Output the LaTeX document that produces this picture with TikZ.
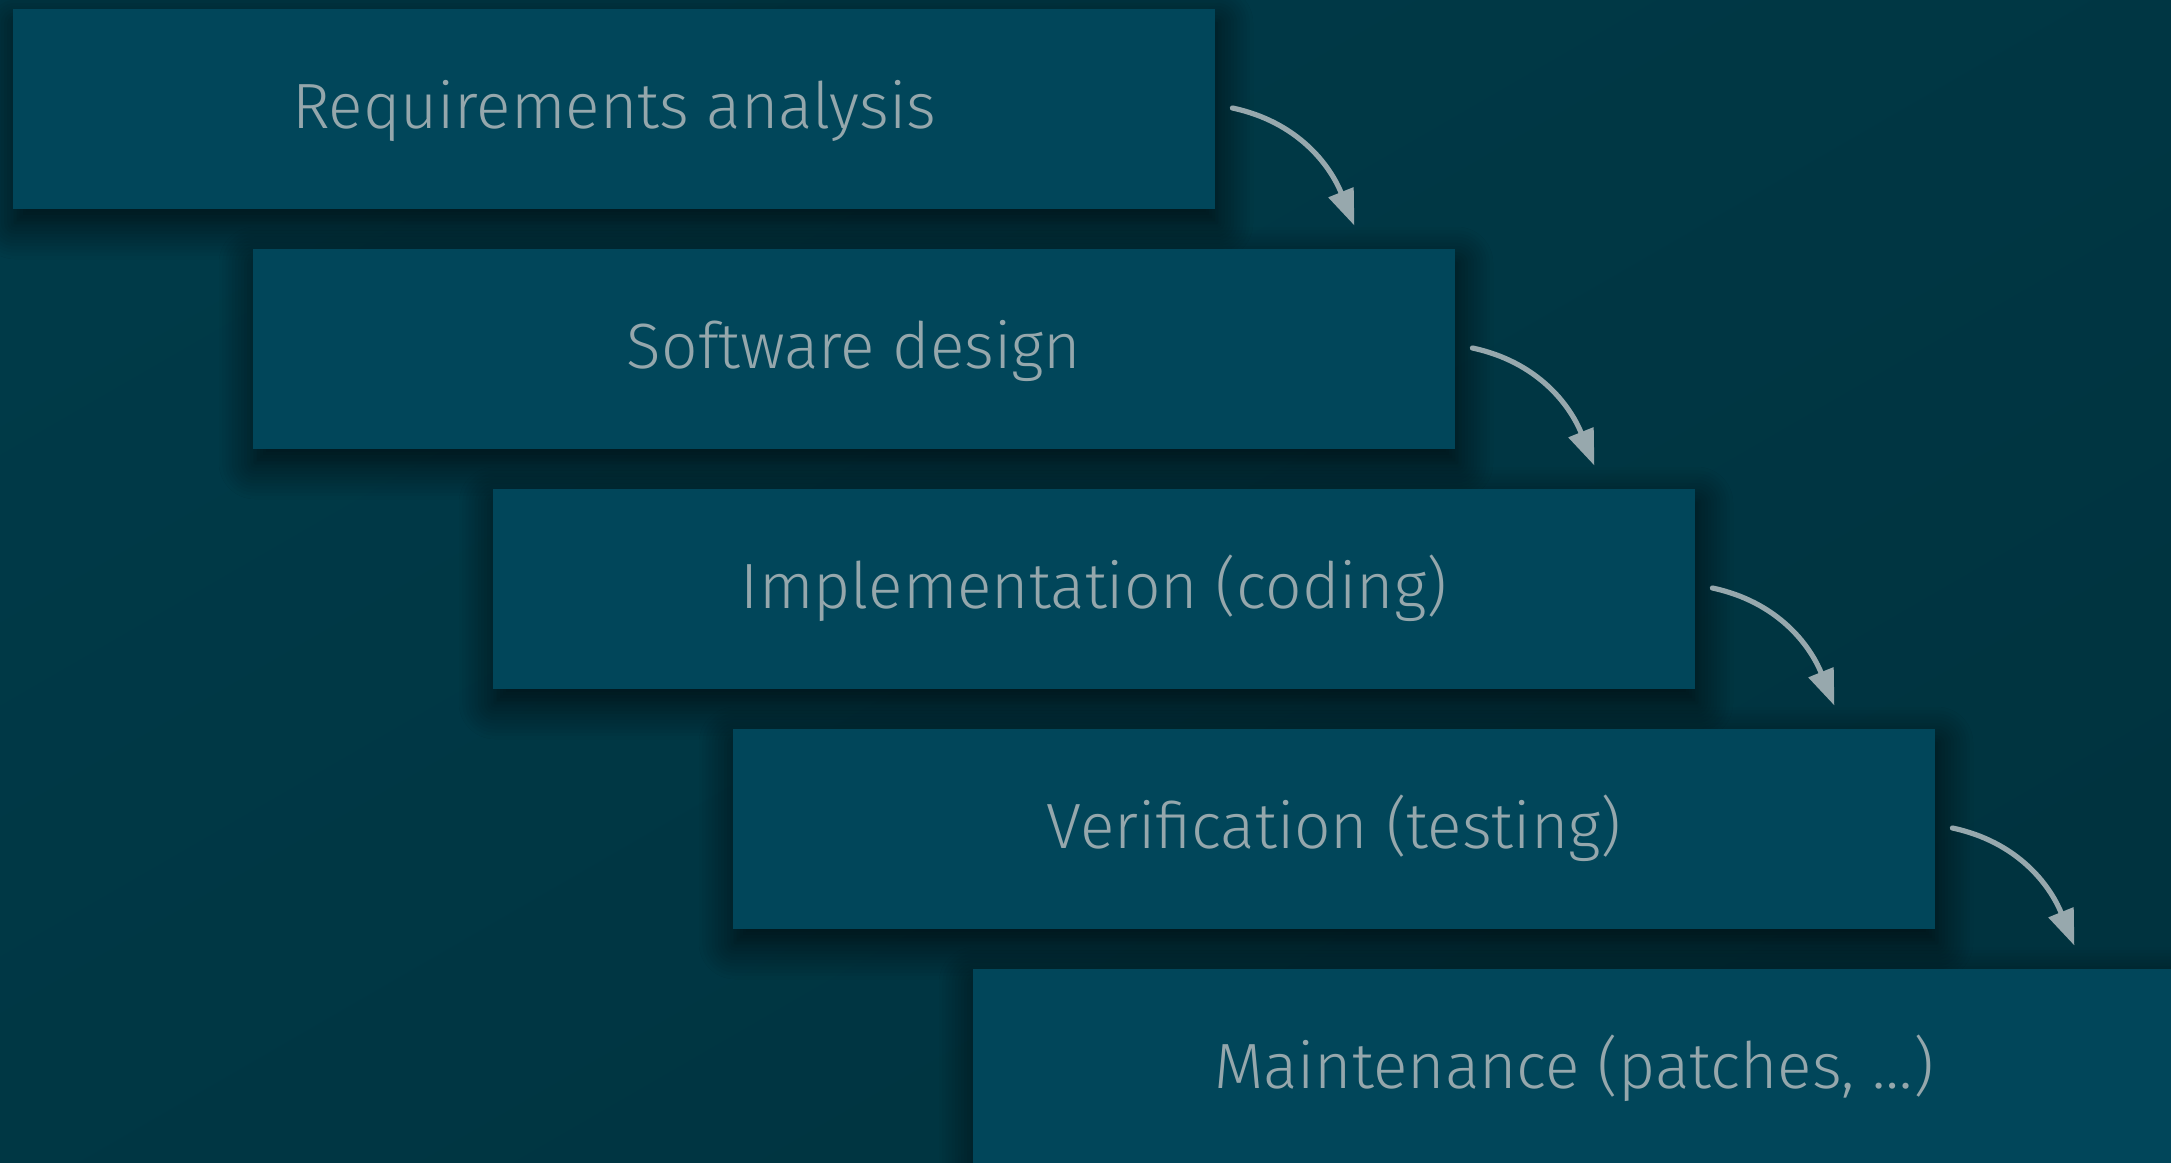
\documentclass[tikz,border=0pt]{standalone}
\usepackage{fontspec}
\setmainfont{Fira Sans}[UprightFont=* Light]
\usetikzlibrary{arrows.meta,shadows.blur}

\definecolor{bgdark}{HTML}{00333F}
\definecolor{bglight}{HTML}{003A48}
\definecolor{boxfill}{HTML}{01465A}
\definecolor{labelgray}{HTML}{95A7AC}
\definecolor{arrowgray}{HTML}{97A8AD}

\tikzset{
  stage/.style={
    rectangle, fill=boxfill, inner sep=0pt,
    minimum width=601pt, minimum height=100pt,
    text=labelgray, font=\fontsize{32}{38}\selectfont,
    text height=25pt, text depth=6pt,
    blur shadow={shadow xshift=1pt, shadow yshift=-7pt,
                 shadow blur radius=18pt, shadow opacity=75,
                 shadow blur steps=12}
  },
  flow/.style={
    draw=arrowgray, line width=2.6pt, line cap=round,
    -{Triangle[length=18pt,width=13pt]}
  }
}

\begin{document}
\begin{tikzpicture}[x=0.5pt,y=-0.5pt]
  % page and background
  \useasboundingbox (0,0) rectangle (2171,1162);
  \shade[bottom color=bgdark, top color=bglight, shading angle=30]
    (0,0) rectangle (2171,1162);

  % the five phases, stepping down to the right
  \node[stage] (req)   at (614,109)  {Requirements analysis};
  \node[stage] (des)   at (854,349)  {Software design};
  \node[stage] (impl)  at (1094,589) {Implementation (coding)};
  \node[stage] (ver)   at (1334,829) {Verification (testing)};
  \node[stage] (maint) at (1574,1069) {Maintenance (patches, \ldots)};

  % curved hand-over arrows between consecutive phases
  \foreach \a/\b in {req/des, des/impl, impl/ver, ver/maint}{
    \draw[flow] ([xshift=8.5pt,yshift=0.5pt]\a.east)
      to[out=-12, in=112] ([shift={(-50.5pt,11.5pt)}]\b.north east);
  }
\end{tikzpicture}
\end{document}
